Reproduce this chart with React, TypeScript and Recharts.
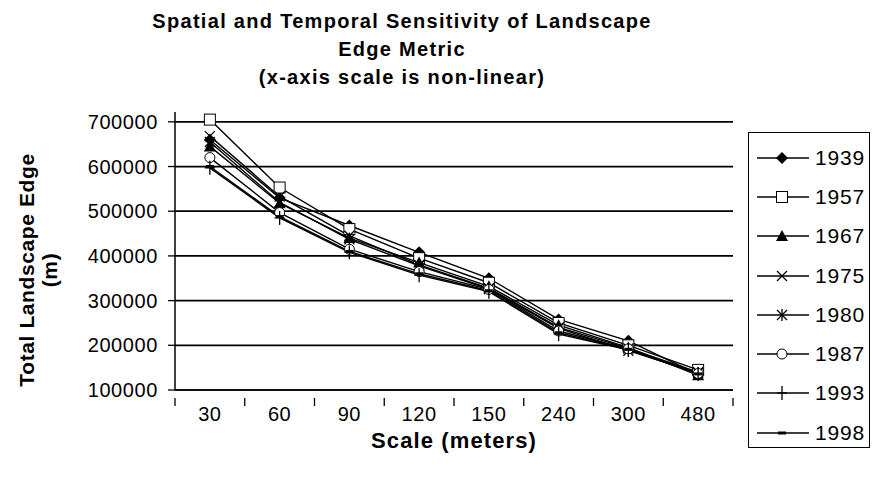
import { LineChart, Line, XAxis, YAxis, CartesianGrid } from 'recharts'

const scales = ['30', '60', '90', '120', '150', '240', '300', '480']
const years = ['1939', '1957', '1967', '1975', '1980', '1987', '1993', '1998']

const edge1939 = [660000, 530000, 468000, 408000, 350000, 258000, 210000, 135000]
const edge1957 = [705000, 553000, 460000, 395000, 340000, 250000, 200000, 145000]
const edge1967 = [645000, 518000, 440000, 385000, 332000, 245000, 195000, 133000]
const edge1975 = [668000, 533000, 445000, 380000, 328000, 240000, 193000, 140000]
const edge1980 = [655000, 520000, 437000, 378000, 326000, 238000, 188000, 138000]
const edge1987 = [620000, 497000, 415000, 365000, 325000, 232000, 192000, 137000]
const edge1993 = [597000, 485000, 408000, 357000, 320000, 225000, 190000, 136000]
const edge1998 = [600000, 488000, 410000, 360000, 322000, 228000, 191000, 136000]

const yTicks = [100000, 200000, 300000, 400000, 500000, 600000, 700000]

const series = [edge1939, edge1957, edge1967, edge1975, edge1980, edge1987, edge1993, edge1998]

type Kind = 'diamond' | 'square' | 'triangle' | 'cross' | 'star' | 'circle' | 'plus' | 'dash'
const kinds: Kind[] = ['diamond', 'square', 'triangle', 'cross', 'star', 'circle', 'plus', 'dash']

const data = scales.map((s, i) => {
  const row: Record<string, string | number> = { scale: s }
  years.forEach((y, j) => {
    row['y' + y] = series[j][i]
  })
  return row
})

const FONT = '"Liberation Sans", Arial, Helvetica, sans-serif'
const W = 873
const H = 482
const M = { top: 112, right: 140, bottom: 0, left: 0 }
const Y_W = 175
const X_H = 92

function Marker({ kind, cx, cy }: { kind: Kind; cx: number; cy: number }) {
  switch (kind) {
    case 'diamond':
      return <polygon points={`${cx},${cy - 6} ${cx + 6},${cy} ${cx},${cy + 6} ${cx - 6},${cy}`} fill="#000" />
    case 'square':
      return <rect x={cx - 5.5} y={cy - 5.5} width={11} height={11} fill="#fff" stroke="#000" strokeWidth={1} />
    case 'triangle':
      return <polygon points={`${cx},${cy - 6} ${cx + 6},${cy + 5} ${cx - 6},${cy + 5}`} fill="#000" />
    case 'cross':
      return (
        <g stroke="#000" strokeWidth={1.3}>
          <line x1={cx - 5} y1={cy - 5} x2={cx + 5} y2={cy + 5} />
          <line x1={cx - 5} y1={cy + 5} x2={cx + 5} y2={cy - 5} />
        </g>
      )
    case 'star':
      return (
        <g stroke="#000" strokeWidth={1.3}>
          <line x1={cx - 5} y1={cy - 5} x2={cx + 5} y2={cy + 5} />
          <line x1={cx - 5} y1={cy + 5} x2={cx + 5} y2={cy - 5} />
          <line x1={cx} y1={cy - 6} x2={cx} y2={cy + 6} />
        </g>
      )
    case 'circle':
      return <circle cx={cx} cy={cy} r={5} fill="#fff" stroke="#000" strokeWidth={1} />
    case 'plus':
      return (
        <g stroke="#000" strokeWidth={1.3}>
          <line x1={cx} y1={cy - 7} x2={cx} y2={cy + 7} />
          <line x1={cx - 5} y1={cy} x2={cx + 5} y2={cy} />
        </g>
      )
    case 'dash':
      return <rect x={cx - 4} y={cy - 1.5} width={8} height={3} fill="#000" />
  }
}

const plotW = W - M.left - M.right - Y_W
const band = plotW / scales.length

function XTick(props: any) {
  const { x, y, payload, index } = props
  const top = y
  return (
    <g>
      <line x1={x - band / 2} y1={top} x2={x - band / 2} y2={top + 8} stroke="#000" strokeWidth={1.3} />
      {index === scales.length - 1 && (
        <line x1={x + band / 2} y1={top} x2={x + band / 2} y2={top + 8} stroke="#000" strokeWidth={1.3} />
      )}
      <text x={x} y={y + 23} textAnchor="middle" fontFamily={FONT} fontSize={20} letterSpacing={0.6} fill="#000">
        {payload.value}
      </text>
    </g>
  )
}

function YTick(props: any) {
  const { x, y, payload } = props
  return (
    <text x={x} y={y + 7} textAnchor="end" fontFamily={FONT} fontSize={20} letterSpacing={0.6} fill="#000">
      {payload.value}
    </text>
  )
}

function YLabel(props: any) {
  const vb = props.viewBox
  const cy = vb.y + vb.height / 2 + 19
  return (
    <g fontFamily={FONT} fontSize={21} fontWeight="bold" fill="#000" textAnchor="middle" letterSpacing={0.6}>
      <text transform={`translate(34, ${cy}) rotate(-90)`}>Total Landscape Edge</text>
      <text transform={`translate(57, ${cy}) rotate(-90)`}>(m)</text>
    </g>
  )
}

function XLabel(props: any) {
  const vb = props.viewBox
  return (
    <text
      x={vb.x + vb.width / 2}
      y={vb.y + 58}
      textAnchor="middle"
      fontFamily={FONT}
      fontSize={22}
      fontWeight="bold"
      letterSpacing={1.1}
      fill="#000"
    >
      Scale (meters)
    </text>
  )
}

export default function App() {
  return (
    <div style={{ position: 'absolute', left: 0, top: 0, width: W, height: H, background: '#fff', fontFamily: FONT }}>
      <div
        style={{
          position: 'absolute',
          left: 0,
          width: 804,
          top: 7,
          textAlign: 'center',
          fontWeight: 'bold',
          fontSize: 20,
          lineHeight: '28px',
          letterSpacing: 1.3,
          color: '#000',
        }}
      >
        Spatial and Temporal Sensitivity of Landscape
        <br />
        Edge Metric
        <br />
        (x-axis scale is non-linear)
      </div>

      <LineChart width={W} height={H} data={data} margin={M}>
        <CartesianGrid horizontal vertical={false} stroke="#000" strokeWidth={1.7} horizontalValues={yTicks} />
        <XAxis
          dataKey="scale"
          interval={0}
          padding={{ left: band / 2, right: band / 2 }}
          tickLine={false}
          axisLine={{ stroke: '#000', strokeWidth: 1.5 }}
          tick={<XTick />}
          height={X_H}
          label={<XLabel />}
        />
        <XAxis xAxisId="top" orientation="top" height={0} tick={false} tickLine={false} axisLine={{ stroke: '#000', strokeWidth: 1.3 }} />
        <YAxis
          width={Y_W}
          domain={[100000, 722000]}
          allowDataOverflow
          ticks={yTicks}
          interval={0}
          tickSize={7}
          tickMargin={10}
          tickLine={{ stroke: '#000', strokeWidth: 1.3 }}
          axisLine={{ stroke: '#000', strokeWidth: 1.5 }}
          tick={<YTick />}
          label={<YLabel />}
        />
        <YAxis yAxisId="right" orientation="right" width={0} tick={false} tickLine={false} axisLine={{ stroke: '#000', strokeWidth: 1.3 }} />
        {years.map((y, j) => (
          <Line
            key={y}
            dataKey={'y' + y}
            stroke="#000"
            strokeWidth={1.4}
            isAnimationActive={false}
            dot={(p: any) => <Marker key={`${y}-${p.index}`} kind={kinds[j]} cx={p.cx} cy={p.cy} />}
            activeDot={false}
          />
        ))}
      </LineChart>

      <div
        style={{
          position: 'absolute',
          left: 748,
          top: 132,
          width: 122,
          height: 316,
          border: '1.5px solid #000',
          boxSizing: 'border-box',
          paddingTop: 5,
        }}
      >
        {years.map((y, j) => (
          <div key={y} style={{ height: 39.3, display: 'flex', alignItems: 'center' }}>
            <svg width={64} height={20} style={{ flex: 'none' }}>
              <line x1={8} y1={10} x2={60} y2={10} stroke="#000" strokeWidth={1.4} />
              <Marker kind={kinds[j]} cx={33} cy={10} />
            </svg>
            <span style={{ fontSize: 21, letterSpacing: 0.8, color: '#000', marginLeft: 2 }}>{y}</span>
          </div>
        ))}
      </div>
    </div>
  )
}
